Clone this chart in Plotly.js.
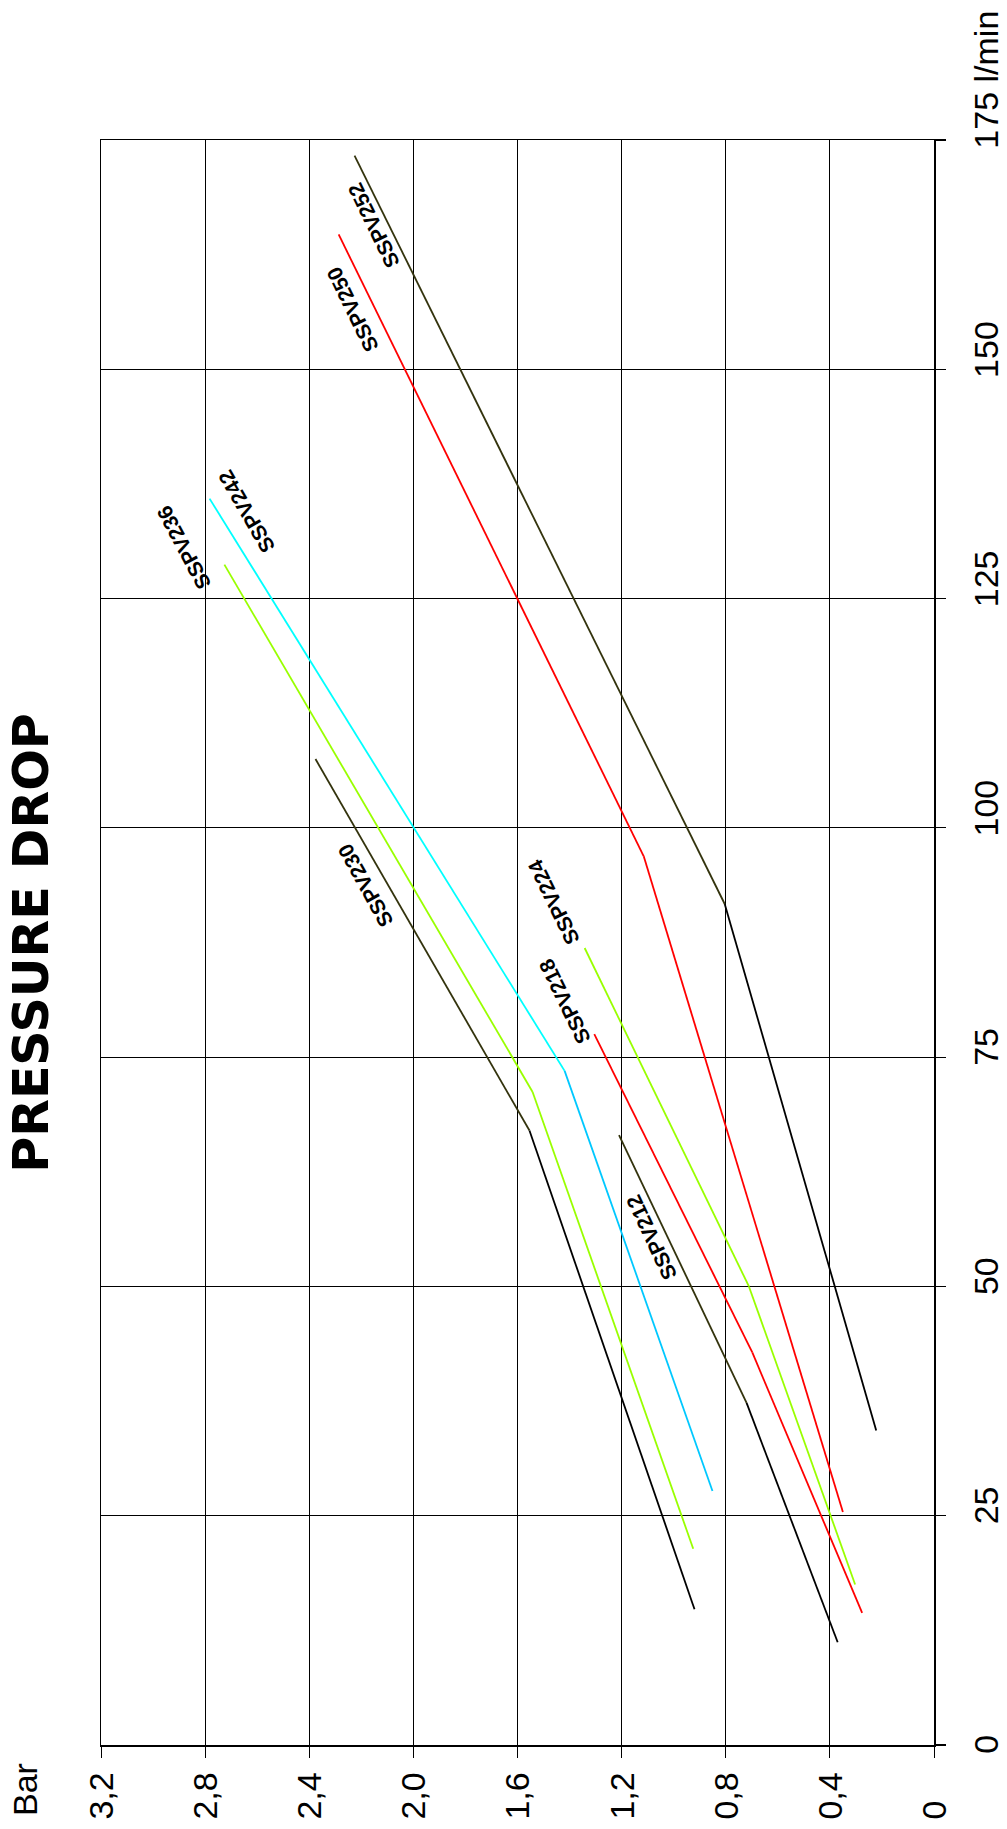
<!DOCTYPE html>
<html>
<head>
<meta charset="utf-8">
<script src="https://cdn.plot.ly/plotly-3.0.1.min.js"></script>
<style>
  html, body { margin: 0; padding: 0; background: #fff; overflow: hidden; }
  #wrap { position: relative; width: 1007px; height: 1829px; overflow: hidden; }
  #chart { position: absolute; left: 0; top: 0; width: 1829px; height: 1007px;
           transform-origin: 0 0; transform: translate(0px, 1829px) rotate(-90deg); }
</style>
</head>
<body>
<div id="wrap"><div id="chart"></div></div>
<script>
// ---- data (flow in l/min, pressure drop in bar) ----
const flowTicks = [0, 25, 50, 75, 100, 125, 150, 175];
const flowTickText = ['0', '25', '50', '75', '100', '125', '150', '175 l/min'];
const barTicks = [0, 0.4, 0.8, 1.2, 1.6, 2.0, 2.4, 2.8, 3.2];
const barTickText = ['0\u00a0\u00a0\u00a0', '0,4', '0,8', '1,2', '1,6', '2,0', '2,4', '2,8', '3,2'];

const seriesNames = ['SSPV212', 'SSPV218', 'SSPV224', 'SSPV230', 'SSPV236', 'SSPV242', 'SSPV250', 'SSPV252'];

// each curve: [low end, knee, high end]
const sspv212Flow = [11.2, 37.3, 66.5];   const sspv212Bar = [0.37, 0.72, 1.21];
const sspv218Flow = [14.4, 42.8, 77.5];   const sspv218Bar = [0.276, 0.698, 1.305];
const sspv224Flow = [17.5, 50.0, 86.9];   const sspv224Bar = [0.303, 0.711, 1.342];
const sspv230Flow = [14.8, 67.0, 107.5];  const sspv230Bar = [0.92, 1.554, 2.376];
const sspv236Flow = [21.4, 71.2, 128.7];  const sspv236Bar = [0.925, 1.542, 2.726];
const sspv242Flow = [27.7, 73.5, 135.9];  const sspv242Bar = [0.851, 1.419, 2.783];
const sspv250Flow = [25.4, 96.9, 164.7];  const sspv250Bar = [0.35, 1.115, 2.287];
const sspv252Flow = [34.3, 91.7, 173.3];  const sspv252Bar = [0.222, 0.804, 2.226];

// label anchor points
const labelFlow = [55.3, 81.1, 91.9, 93.7, 130.6, 134.5, 156.5, 165.7];
const labelBar  = [1.085, 1.419, 1.463, 2.184, 2.882, 2.640, 2.233, 2.152];

// ---- styles ----
const OLIVE = '#33330d', RED = '#ff0000', GREEN = '#99ff00', CYAN = '#00ffff', SKY = '#00c8ff', BLACK = '#000000';
const flows = [sspv212Flow, sspv218Flow, sspv224Flow, sspv230Flow, sspv236Flow, sspv242Flow, sspv250Flow, sspv252Flow];
const bars  = [sspv212Bar, sspv218Bar, sspv224Bar, sspv230Bar, sspv236Bar, sspv242Bar, sspv250Bar, sspv252Bar];
const lowColors  = [BLACK, RED, GREEN, BLACK, GREEN, SKY, RED, BLACK];
const highColors = [OLIVE, RED, GREEN, OLIVE, GREEN, CYAN, RED, OLIVE];
const labelAngles = [-25, -26, -26, -29, -28, -30, -26, -26];

const traces = [];
seriesNames.forEach((n, i) => {
  traces.push({x: flows[i].slice(0, 2), y: bars[i].slice(0, 2), type: 'scatter', mode: 'lines',
               name: n, line: {color: lowColors[i], width: 1.8}, hoverinfo: 'skip'});
  traces.push({x: flows[i].slice(1, 3), y: bars[i].slice(1, 3), type: 'scatter', mode: 'lines',
               name: n, line: {color: highColors[i], width: 1.8}, hoverinfo: 'skip'});
});

const labelFont = {family: 'Liberation Sans, Arial, sans-serif', size: 21, weight: 'bold', color: '#000'};
const annotations = seriesNames.map((n, i) => ({
  x: labelFlow[i], y: labelBar[i], xref: 'x', yref: 'y', text: n, showarrow: false,
  textangle: labelAngles[i], font: labelFont
}));
annotations.push({
  x: (11 - 84) / 1605, y: (934 - 25) / 833, xref: 'paper', yref: 'paper', xanchor: 'left', yanchor: 'middle',
  text: 'Bar', showarrow: false, font: {family: 'Liberation Sans, Arial, sans-serif', size: 34, color: '#000'}
});

const tickFont = {family: 'Liberation Sans, Arial, sans-serif', size: 34, color: '#000'};
const layout = {
  width: 1829, height: 1007,
  margin: {l: 84, r: 140, t: 101, b: 73},
  paper_bgcolor: '#fff', plot_bgcolor: '#fff',
  showlegend: false,
  title: {text: 'PRESSURE DROP', x: 0.4997, xref: 'paper', xanchor: 'center',
          y: 1 - 31 / 1007, yref: 'container', yanchor: 'middle',
          font: {family: 'DejaVu Sans, sans-serif', size: 49, weight: 'bold', color: '#000'}},
  xaxis: {
    range: [0, 175], tickmode: 'array', tickvals: flowTicks, ticktext: flowTickText,
    showgrid: true, gridcolor: '#000', gridwidth: 1.2, zeroline: false,
    showline: true, linecolor: '#000', linewidth: 1.5, mirror: true,
    ticks: 'outside', ticklen: 10, tickwidth: 1.2, tickcolor: '#000',
    ticklabelposition: 'outside right', ticklabelshift: -10, ticklabelstandoff: 22,
    tickfont: tickFont, fixedrange: true
  },
  yaxis: {
    range: [0, 3.2], tickmode: 'array', tickvals: barTicks, ticktext: barTickText,
    showgrid: true, gridcolor: '#000', gridwidth: 1, zeroline: false,
    showline: true, linecolor: '#000', linewidth: 1.5, mirror: true,
    ticks: 'outside', ticklen: 11, tickwidth: 1, tickcolor: '#000',
    ticklabelstandoff: 8,
    tickfont: tickFont, fixedrange: true
  },
  annotations: annotations
};

Plotly.newPlot('chart', traces, layout, {staticPlot: true, displayModeBar: false});
</script>
</body>
</html>
